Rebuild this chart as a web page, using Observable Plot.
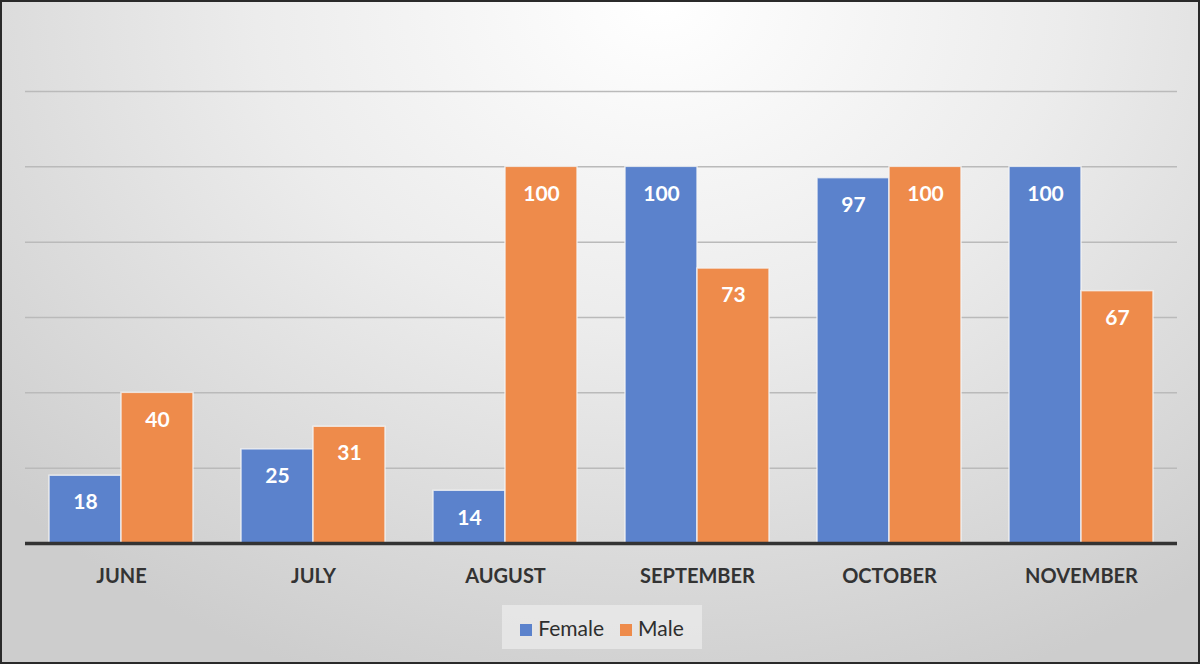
<!DOCTYPE html>
<html>
<head>
<meta charset="utf-8">
<script src="https://cdn.jsdelivr.net/npm/d3@7"></script>
<script src="https://cdn.jsdelivr.net/npm/@observablehq/plot@0.6"></script>
<style>
  html, body { margin: 0; padding: 0; }
  #frame {
    position: relative; width: 1200px; height: 664px; box-sizing: border-box;
    border: 2px solid #2a2a2a;
    background: radial-gradient(ellipse 75% 110% at 55% 0%, #ffffff 0%, #ececec 45%, #cdcdcd 100%);
    font-family: Lato, "Open Sans", sans-serif; overflow: hidden;
  }
  #chart { position: absolute; left: 0; top: 0; }
  #legend {
    position: absolute; left: 500px; top: 603px; width: 200px; height: 44px;
    background: rgba(235,235,235,0.75);
    display: flex; align-items: center; justify-content: center; gap: 16px;
    font-size: 21px; color: #2e2e2e;
  }
  #legend span.sw { display: inline-block; width: 12px; height: 12px; margin-right: 6px; vertical-align: 0px; }
</style>
</head>
<body>
<div id="frame">
  <div id="chart"></div>
  <div id="legend"></div>
</div>
<script>
const months = ["JUNE", "JULY", "AUGUST", "SEPTEMBER", "OCTOBER", "NOVEMBER"];
const series = ["Female", "Male"];
const female = [18, 25, 14, 100, 97, 100];
const male = [40, 31, 100, 73, 100, 67];
const gridTicks = [20, 40, 60, 80, 100, 120];
const colors = ["#5b82cc", "#ee8b4b"];

const data = [];
months.forEach((m, i) => {
  data.push({month: m, sex: "Female", value: female[i]});
  data.push({month: m, sex: "Male", value: male[i]});
});

const plot = Plot.plot({
  width: 1196,
  height: 600,
  marginLeft: 23,
  marginRight: 21,
  marginTop: 89,
  marginBottom: 59,
  style: {background: "transparent", fontFamily: "Lato, 'Open Sans', sans-serif"},
  fx: {domain: months, paddingInner: 0.25, paddingOuter: 0.125, axis: null, label: null},
  x: {domain: series, padding: 0, axis: null},
  y: {domain: [0, 120], axis: null},
  color: {domain: series, range: colors},
  marks: [
    Plot.ruleY(gridTicks, {stroke: "#bababa", strokeWidth: 1.5, insetLeft: -24, insetRight: -24}),
    Plot.barY(data, {fx: "month", x: "sex", y: "value", fill: "sex", stroke: "#f4f4f4", strokeWidth: 1.5, strokeOpacity: 0.8}),
    Plot.text(data, {fx: "month", x: "sex", y: "value", text: d => String(d.value), dy: 27, fill: "white", fontWeight: "bold", fontSize: 21}),
    Plot.ruleY([0], {stroke: "#333", strokeWidth: 3.5, insetLeft: -24, insetRight: -24}),
    Plot.axisFx({anchor: "bottom", tickSize: 0, tickPadding: 25, label: null, fontSize: 20, fontWeight: "bold", fill: "#333"})
  ]
});
document.getElementById("chart").appendChild(plot);

const legend = document.getElementById("legend");
series.forEach((s, i) => {
  const item = document.createElement("div");
  item.innerHTML = `<span class="sw" style="background:${colors[i]}"></span>${s}`;
  legend.appendChild(item);
});
</script>
</body>
</html>
